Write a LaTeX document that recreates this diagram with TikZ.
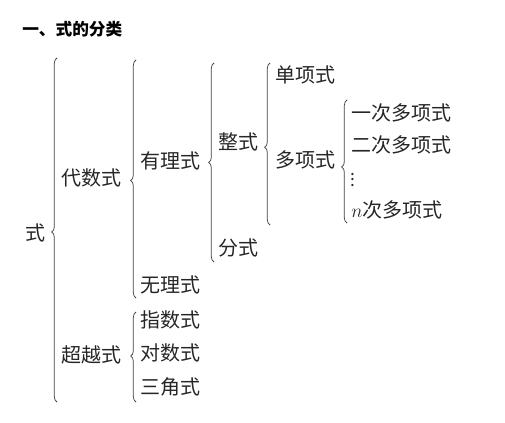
\documentclass[tikz,border=0pt]{standalone}
\usepackage{fontspec}
\setmainfont{Noto Sans CJK SC}
\usetikzlibrary{decorations.pathreplacing}

\begin{document}
\begin{tikzpicture}[x=0.75pt,y=-0.75pt,
    lbl/.style={anchor=west,inner sep=0pt,text=black!85,font=\fontsize{15}{17}\selectfont},
    brc/.style={decorate,decoration={brace,amplitude=4pt,aspect=#1},line width=0.55pt,black!75},
    brc/.default=0.5]
  \useasboundingbox (0,0) rectangle (505,423);
  \node[anchor=west,inner sep=0pt,font=\fontsize{12.5}{14}\selectfont\bfseries] (title) at (22,29) {一、式的分类};
  % level 1
  \node[lbl] (shi) at (25,233) {式};
  \draw[brc=0.494] (57,402) -- (57,58);
  \node[lbl] (daishu) at (61,178) {代数式};
  \node[lbl] (chaoyue) at (61,355) {超越式};
  % algebraic
  \draw[brc=0.494] (136,298) -- (136,60);
  \node[lbl] (youli) at (140,161) {有理式};
  \node[lbl] (wuli) at (140,285) {无理式};
  % transcendental
  \draw[brc=0.51] (136,402) -- (136,312);
  \node[lbl] (zhishu) at (140,320) {指数式};
  \node[lbl] (duishu) at (140,353) {对数式};
  \node[lbl] (sanjiao) at (140,387) {三角式};
  % rational
  \draw[brc=0.5] (214,262) -- (214,63);
  \node[lbl] (zheng) at (218,142) {整式};
  \node[lbl] (fen) at (218,248) {分式};
  % integral
  \draw[brc=0.48] (270,225) -- (270,63);
  \node[lbl] (danxiang) at (275,75) {单项式};
  \node[lbl] (duoxiang) at (275,160) {多项式};
  % polynomial
  \draw[brc=0.455] (347,223) -- (347,100);
  \node[lbl] (yici) at (351,113) {一次多项式};
  \node[lbl] (erci) at (351,145) {二次多项式};
  \node[lbl,font=\fontsize{13}{14}\selectfont] (dots) at (350,176) {$\vdots$};
  \node[lbl] (nci) at (351,210) {$n$次多项式};
\end{tikzpicture}
\end{document}
